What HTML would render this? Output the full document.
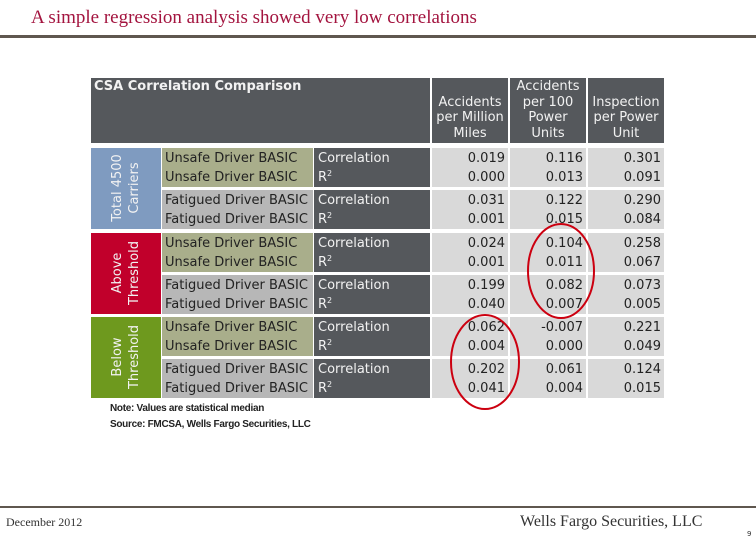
<!DOCTYPE html>
<html><head><meta charset="utf-8"><style>
body{margin:0;width:756px;height:540px;background:#fff;position:relative;overflow:hidden;font-family:"DejaVu Sans","Liberation Sans",sans-serif}
.a{position:absolute;box-sizing:border-box}
.t{font-size:13px;line-height:19px;color:#222;white-space:nowrap}
.w{color:#f2f2f2}
.sp{font-size:8px;position:relative;top:-5px;line-height:0;vertical-align:baseline}
</style></head><body>
<div class="a" style="left:31px;top:7px;font-family:'Liberation Serif',serif;font-size:19px;color:#a3143f">A simple regression analysis showed very low correlations</div>
<div class="a" style="left:0;top:35px;width:756px;height:3px;background:#5f574f"></div>

<div id="tbl">
<div class="a" style="left:91px;top:78px;width:339px;height:65px;background:#55585c"></div>
<div class="a w" style="left:94px;top:79px;font-size:13px;font-weight:bold">CSA Correlation Comparison</div>
</div>
<svg class="a" style="left:0;top:0" width="756" height="540">
<ellipse cx="561" cy="271" rx="33" ry="47" fill="none" stroke="#cc0010" stroke-width="2"/>
<ellipse cx="485" cy="362" rx="34" ry="47" fill="none" stroke="#cc0010" stroke-width="2"/>
</svg>
<div class="a" style="left:110px;top:403px;font-family:'Liberation Sans',sans-serif;font-size:10px;font-weight:bold;color:#222;letter-spacing:-0.3px">Note: Values are statistical median</div>
<div class="a" style="left:110px;top:419px;font-family:'Liberation Sans',sans-serif;font-size:10px;font-weight:bold;color:#222;letter-spacing:-0.3px">Source: FMCSA, Wells Fargo Securities, LLC</div>
<div class="a" style="left:0;top:506px;width:756px;height:2px;background:#5f574f"></div>
<div class="a" style="left:6px;top:515px;font-family:'Liberation Serif',serif;font-size:12px;color:#333">December 2012</div>
<div class="a" style="left:520px;top:513px;font-family:'Liberation Serif',serif;font-size:16px;color:#333">Wells Fargo Securities, LLC</div>
<div class="a" style="left:747px;top:530px;font-size:7px;color:#333">9</div>
<script>
const columns=["Accidents<br>per Million<br>Miles","Accidents<br>per 100<br>Power<br>Units","Inspection<br>per Power<br>Unit"];
const groups=["Total 4500<br>Carriers","Above<br>Threshold","Below<br>Threshold"];
const groupColors=["#7f9bc0","#c1002b","#6e991e"];
const measures=["Unsafe Driver BASIC","Fatigued Driver BASIC"];
const corrMiles=[0.019,0.031,0.024,0.199,0.062,0.202];
const r2Miles=[0.000,0.001,0.001,0.040,0.004,0.041];
const corrPower=[0.116,0.122,0.104,0.082,-0.007,0.061];
const r2Power=[0.013,0.015,0.011,0.007,0.000,0.004];
const corrInsp=[0.301,0.290,0.258,0.073,0.221,0.124];
const r2Insp=[0.091,0.084,0.067,0.005,0.049,0.015];
const T=document.getElementById('tbl');
function mk(st,cls,html){const d=document.createElement('div');d.className='a '+(cls||'');d.style.cssText=st;if(html!==undefined)d.innerHTML=html;T.appendChild(d);return d;}
const colX=[432,510,588];
columns.forEach((c,i)=>{
const d=mk(`left:${colX[i]}px;top:78px;width:76px;height:65px;background:#55585c;display:flex;align-items:flex-end;justify-content:center;text-align:center;padding-bottom:2px;font-size:13px;line-height:15.5px`,'w',c);


});
const blockTop=[148,233,317];
groups.forEach((g,gi)=>{
const gt=blockTop[gi];
const gd=mk(`left:91px;top:${gt}px;width:70px;height:81px;background:${groupColors[gi]}`);


const gl=mk(`left:${91+35-50}px;top:${gt+40-20}px;width:100px;height:40px;transform:rotate(-90deg);text-align:center;font-size:13px;line-height:17px;display:flex;align-items:center;justify-content:center`,'w',g);


measures.forEach((m,mi)=>{
const idx=gi*2+mi;const y=gt+mi*42;const h=39;
const lab=mk(`left:162px;top:${y}px;width:151px;height:${h}px;background:${mi==0?'#a9ae8b':'#b7b7b7'};padding:1px 0 0 3px`,'t',m+'<br>'+m);


const ty=mk(`left:314px;top:${y}px;width:116px;height:${h}px;background:#55585c;padding:1px 0 0 4px`,'t w','Correlation<br>R<span class="sp">2</span>');


[[corrMiles,r2Miles],[corrPower,r2Power],[corrInsp,r2Insp]].forEach((s,ci)=>{
const v=mk(`left:${colX[ci]}px;top:${y}px;width:76px;height:${h}px;background:#d9d9d9;text-align:right;padding:1px 3px 0 0`,'t',s[0][idx].toFixed(3)+'<br>'+s[1][idx].toFixed(3));


});
});
});
</script>
</body></html>
